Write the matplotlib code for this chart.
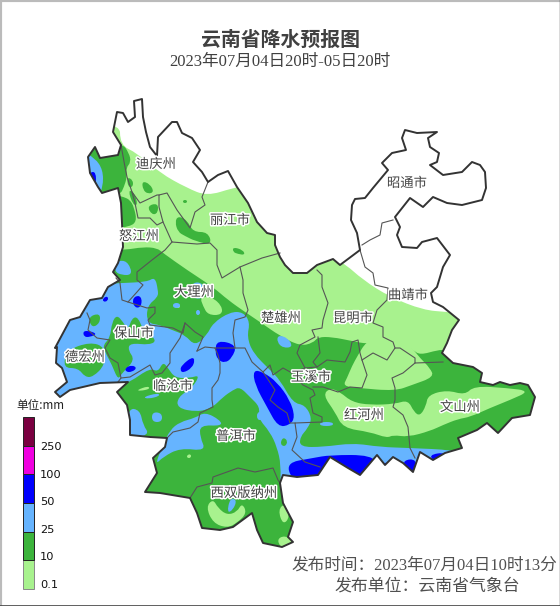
import matplotlib
matplotlib.use('Agg')
import matplotlib.pyplot as plt
import matplotlib.patheffects as pe
from matplotlib.path import Path
from matplotlib.patches import PathPatch, Rectangle

province = [(117,112),(123,113),(128,122),(135,117),(134,101),(142,99),(143,117),(146,132),(150,147),(157,156),
	(158,137),(172,122),(177,122),(182,133),(192,138),(200,150),(193,162),(202,172),(208,182),(218,175),(228,171),
	(237,187),(248,203),(257,222),(267,233),(275,235),(275,245),(280,257),(285,265),(293,273),(307,273),(317,265),
	(333,259),(340,265),(360,250),(357,233),(351,220),(352,205),(355,199),(365,198),(373,188),(388,170),(382,163),
	(392,153),(406,150),(402,138),(405,130),(417,133),(437,132),(428,138),(430,147),(439,153),(437,162),(430,165),
	(443,175),(462,172),(472,162),(480,165),(485,172),(486,188),(482,200),(462,205),(447,203),(433,197),(423,207),
	(410,198),(395,217),(400,227),(397,235),(402,247),(417,248),(422,242),(437,238),(450,255),(443,267),(437,287),
	(431,293),(433,302),(443,307),(459,320),(452,330),(447,343),(442,353),(453,363),(473,367),(482,373),(480,382),
	(493,385),(500,382),(510,385),(520,383),(528,385),(535,397),(530,415),(512,418),(498,433),(487,423),(477,430),
	(458,438),(462,448),(445,453),(433,460),(420,452),(413,472),(403,463),(393,457),(385,465),(377,455),(360,475),
	(348,468),(330,457),(318,475),(297,477),(283,475),(280,483),(283,503),(293,522),(288,537),(293,542),(282,547),
	(263,543),(257,530),(252,513),(233,527),(220,530),(202,528),(197,513),(190,498),(160,493),(145,492),(157,473),
	(153,458),(165,447),(167,438),(150,437),(130,435),(130,420),(127,405),(117,392),(128,382),(100,383),(70,390),
	(60,397),(55,392),(67,382),(62,368),(56,363),(57,347),(55,348),(70,320),(80,317),(90,300),(102,298),(108,287),
	(120,280),(113,272),(118,263),(123,247),(122,223),(121,203),(118,188),(102,193),(98,187),(90,173),(88,157),
	(95,147),(100,158),(118,155),(121,145),(113,132)]

borders = [
	[(208,182),(202,197),(205,205),(195,212),(190,228),(177,210),(167,193),(159,195),(159,207),(163,222),(172,242),
	 (197,244),(210,243),(217,250),(217,265),(222,278),(240,267),(262,258),(280,253)],
	[(121,145),(125,167),(127,177),(132,192),(135,203),(138,218),(150,218),(157,225),(163,222)],
	[(132,192),(140,203),(157,195),(159,195)],
	[(172,242),(165,250),(152,260),(137,272),(137,280),(143,285),(137,292),(128,302),(122,300),(120,283),(116,278)],
	[(128,302),(147,308),(155,307),(155,313),(148,320),(150,325),(173,328),(183,333),(185,323),(195,332),(203,337),(197,351)],
	[(197,351),(205,347),(215,348),(218,355),(220,363),(220,373),(218,380),(212,388),(212,400),(213,407),(200,413),
	 (198,422),(190,428),(173,432),(167,438)],
	[(240,267),(243,280),(243,293),(248,310),(245,317),(235,320),(233,333),(235,348),(215,348)],
	[(235,348),(245,348),(252,362),(263,372),(270,365),(273,375),(283,368),(292,373),(303,385),(313,390),(315,395),
	 (310,398),(313,413),(322,417),(322,422),(295,423),(297,437),(292,450),(305,462),(320,467)],
	[(263,372),(275,390),(270,400),(278,407),(287,413),(290,423),(295,423)],
	[(313,387),(323,387),(338,392),(350,387),(362,388),(367,375),(362,360),(373,353),(387,360),(395,348),(400,348),
	 (415,358),(415,363),(443,362)],
	[(415,363),(403,373),(392,378),(395,388),(395,400),(393,407),(403,415),(408,427),(410,448),(415,458)],
	[(317,270),(322,275),(322,287),(328,303),(323,320),(322,328),(312,330),(315,337),(300,345),(297,353),(305,368),(292,373)],
	[(305,368),(317,367),(327,360),(345,362),(350,352),(352,342),(358,340),(360,353),(362,360)],
	[(318,337),(320,353),(313,362),(317,367)],
	[(360,250),(365,267),(373,273),(375,285),(388,288),(387,300),(377,310),(373,323),(383,327),(383,337),(393,342),(395,348)],
	[(393,220),(382,223),(380,235),(370,240),(362,245)],
	[(190,498),(197,487),(212,483),(213,477),(227,472),(238,468),(255,472),(273,468),(278,480),(280,483)],
	[(87,313),(90,320),(88,330),(97,338),(110,340),(105,348),(110,358),(118,363),(121,378),(118,382)],
	[(121,378),(130,377),(150,365),(155,375),(162,373),(170,363),(170,353),(180,338),(185,323)],
]

# rainfall areas, drawn in this order
light_base = [(120,120),(120,145),(137,153),(160,173),(187,188),(207,196),(233,188),(245,186),(300,240),(343,262),
	(363,280),(390,297),(423,310),(447,312),(480,315),(560,400),(560,600),(0,600),(0,120)]
dark_main = [(100,250),(125,250),(143,247),(157,248),(163,253),(187,270),(213,287),(228,300),(245,312),(260,322),
	(280,336),(300,346),(313,343),(318,337),(332,337),(352,341),(367,344),(400,342),(413,350),(420,355),(438,350),
	(445,350),(480,360),(560,380),(560,560),(100,560),(30,420),(30,300)]
dark_nw = [(80,135),(122,143),(129,153),(131,162),(126,168),(127,177),(124,187),(120,195),(95,200),(80,175)]
dark_nuj = [(115,195),(124,197),(130,200),(134,207),(137,222),(128,227),(115,228)]
dark_patches = [
	[(142,181),(150,184),(154,192),(148,194),(143,190)],
	[(147,206),(158,203),(158,213),(152,215)],
	[(127,177),(133,180),(133,187),(128,187)],
	[(178,216),(187,220),(193,232),(208,232),(212,245),(195,241),(185,236),(178,232),(175,222)],
	[(233,247),(243,250),(245,255),(238,254),(233,252)],
	[(183,200),(187,200),(187,203),(183,203)],
	[(128,190),(134,192),(138,205),(133,205)],
]
light_holes = [
	[(366,342),(358,355),(352,366),(347,378),(343,386),(358,388),(395,391),(412,385),(434,377),(430,368),(420,358),
	 (413,349),(400,335),(380,335)],
	[(323,395),(330,388),(340,392),(352,402),(370,405),(395,404),(408,400),(414,412),(420,416),(426,406),(428,395),
	 (447,390),(465,395),(474,386),(507,388),(530,391),(510,400),(490,408),(470,417),(458,419),(443,425),(430,431),
	 (408,437),(393,435),(387,438),(370,432),(343,428),(335,412)],
	[(200,297),(212,297),(222,306),(222,315),(208,315),(203,306)],
	[(175,305),(180,305),(180,308),(175,308)],
	[(137,390),(148,386),(150,389),(140,391)],
	[(206,507),(213,499),(218,508),(227,515),(237,512),(242,503),(247,513),(237,523),(227,528),(213,523)],
	[(278,510),(285,503),(290,517),(283,525)],
	[(276,540),(285,535),(295,543),(285,552)],
	[(187,455),(191,454),(191,458),(187,458)],
]
blue_main = [(95,285),(120,283),(147,282),(155,277),(158,290),(158,297),(147,306),(147,323),(160,325),(172,330),
	(185,335),(195,346),(207,335),(213,323),(230,312),(243,312),(250,322),(247,337),(253,353),(270,370),(280,380),
	(293,403),(305,405),(312,418),(308,428),(300,437),(300,447),(323,447),(353,443),(380,447),(410,448),(453,450),
	(470,455),(470,500),(300,500),(280,490),(281,465),(277,447),(270,432),(258,418),(260,407),(250,397),(240,387),
	(233,390),(223,397),(212,408),(197,412),(177,408),(178,397),(192,388),(200,375),(190,378),(175,378),(168,368),
	(163,362),(158,372),(150,368),(130,382),(120,385),(100,400),(40,400),(40,320),(70,300)]
blue_patches = [
	[(80,150),(95,158),(103,170),(103,187),(98,197),(90,190),(80,170)],
	[(115,262),(125,260),(131,268),(131,275),(122,275),(115,272)],
	[(128,408),(140,410),(143,425),(150,435),(125,440)],
	[(155,465),(163,445),(170,430),(180,422),(195,418),(205,412),(220,420),(222,426),(200,425),(200,437),(206,451),
	 (180,448),(163,457)],
	[(278,335),(288,338),(293,347),(283,348),(277,342)],
	[(143,397),(158,393),(160,396),(148,399)],
	[(152,412),(162,413),(162,422),(152,422)],
	[(173,303),(180,303),(180,308),(173,308)],
	[(196,310),(200,310),(200,315),(196,315)],
	[(193,282),(203,283),(206,296),(196,300),(190,292)],
	[(320,422),(333,422),(333,426),(320,426)],
	[(227,513),(230,498),(237,500),(233,510)],
	[(257,412),(263,412),(263,420),(257,420)],
]
dark_islands = [
	[(112,322),(117,315),(123,322),(128,330),(132,318),(138,317),(143,330),(157,340),(150,345),(130,343),(128,350),
	 (135,360),(122,373),(118,380),(112,365),(105,352),(103,345),(110,338)],
	[(67,350),(90,342),(105,347),(105,365),(93,377),(85,377),(78,368),(63,368)],
	[(88,317),(100,313),(100,323),(92,328)],
	[(283,437),(288,441),(285,447),(280,444)],
]
navy_areas = [
	[(90,172),(96,172),(96,186),(92,186),(89,178)],
	[(217,340),(237,345),(232,358),(225,363),(218,360),(215,352)],
	[(253,370),(263,372),(277,382),(290,400),(295,417),(290,425),(278,427),(267,407),(255,385)],
	[(182,365),(192,357),(195,360),(192,368),(183,373),(180,370)],
	[(132,300),(137,295),(142,298),(141,307),(135,308)],
	[(83,331),(90,331),(97,334),(90,337),(84,337)],
	[(125,368),(132,365),(137,368),(132,372),(126,372)],
	[(103,298),(108,296),(108,301),(103,302)],
	[(285,463),(313,458),(330,455),(372,455),(378,467),(365,482),(320,487),(295,484)],
	[(383,462),(390,464),(386,471)],
	[(403,460),(417,459),(415,475),(405,470)],
	[(428,455),(447,452),(437,463)],
]

region_names = ['迪庆州','丽江市','怒江州','大理州','楚雄州','昆明市','昭通市','曲靖市','保山市','德宏州','临沧市',
	'玉溪市','普洱市','红河州','文山州','西双版纳州']
region_x = [156,230,139,194,281,353,407,408,134,85,173,311,236,364,460,244]
region_y = [164,220,236,292,318,318,183,295,333,357,386,377,436,415,407,493]

legend_colors = ['#a8f28e','#3cb43c','#66b4ff','#0000ff','#f000e0','#7a0040']
legend_labels = ['0.1','10','25','50','100','250']
legend_label_y = [585,557,530,502,475,447]

LIGHT, DARK, BLUE, NAVY = legend_colors[:4]
SERIF = ['Liberation Serif','Noto Sans CJK SC']
CJK = ['Noto Sans CJK SC','DejaVu Sans']


def smooth_path(pts):
	# closed quadratic spline, the vertices are the control points
	mid = lambda a, b: ((a[0]+b[0])/2, (a[1]+b[1])/2)
	verts = [mid(pts[-1], pts[0])]
	codes = [Path.MOVETO]
	for i, p in enumerate(pts):
		verts += [p, mid(p, pts[(i+1) % len(pts)])]
		codes += [Path.CURVE3, Path.CURVE3]
	return Path(verts, codes)


fig = plt.figure(figsize=(5.6, 6.06), dpi=100)
ax = fig.add_axes([0, 0, 1, 1])
ax.set_xlim(0, 560)
ax.set_ylim(606, 0)
ax.axis('off')

outline = Path(province + province[:1], closed=True)
clip = PathPatch(outline, transform=ax.transData, fc='none', ec='none')
ax.add_patch(clip)

layers = [(light_base, LIGHT), (dark_main, DARK), (dark_nw, DARK), (dark_nuj, DARK)]
layers += [(p, DARK) for p in dark_patches]
layers += [(p, LIGHT) for p in light_holes]
layers += [(blue_main, BLUE)]
layers += [(p, DARK) for p in dark_islands]
layers += [(p, BLUE) for p in blue_patches]
layers += [(p, NAVY) for p in navy_areas]
for pts, col in layers:
	patch = PathPatch(smooth_path(pts), fc=col, ec='none', zorder=2)
	ax.add_patch(patch)
	patch.set_clip_path(clip)

for line in borders:
	ax.plot([p[0] for p in line], [p[1] for p in line], color='#555555', lw=0.8, zorder=3)
ax.add_patch(PathPatch(outline, fc='none', ec='#333333', lw=1.4, zorder=4, joinstyle='round'))

halo = [pe.withStroke(linewidth=2.2, foreground='white')]
for name, x, y in zip(region_names, region_x, region_y):
	ax.text(x, y, name, ha='center', va='center', fontsize=9.6, color='#444444', family=CJK,
		path_effects=halo, zorder=5)

ax.text(280, 39, '云南省降水预报图', ha='center', va='center', fontsize=14.3, fontweight='bold', color='#404040', family=CJK)
ax.text(280, 62, '2023年07月04日20时-05日20时', ha='center', va='center', fontsize=12, color='#404040', family=SERIF)
ax.text(557, 566, '发布时间：2023年07月04日10时13分', ha='right', va='center', fontsize=12, color='#505050', family=SERIF)
ax.text(520, 586, '发布单位：云南省气象台', ha='right', va='center', fontsize=12.2, color='#505050', family=SERIF)

# colour legend, bottom to top
box_y = [589,560,532,503,474,446,417]
for i, col in enumerate(legend_colors):
	ax.add_patch(Rectangle((23, box_y[i+1]), 11, box_y[i]-box_y[i+1], fc=col, ec='#222222' if i else '#888888', lw=0.7, zorder=3))
for y, lab in zip(legend_label_y, legend_labels):
	ax.text(40, y, lab, ha='left', va='center', fontsize=8.2, color='#111111', family='DejaVu Sans')
ax.text(16, 406, '单位:mm', ha='left', va='center', fontsize=8.4, color='#222222', family=CJK)

# frame of the picture
ax.plot([0, 0], [0, 606], color='#bbbbbb', lw=3, zorder=6)
ax.plot([0, 560], [0, 0], color='#bbbbbb', lw=3, zorder=6)
ax.plot([0, 560], [605.5, 605.5], color='#444444', lw=1.2, zorder=6)
ax.plot([559.5, 559.5], [0, 606], color='#444444', lw=1, zorder=6)

fig.savefig('out.png', dpi=100)
